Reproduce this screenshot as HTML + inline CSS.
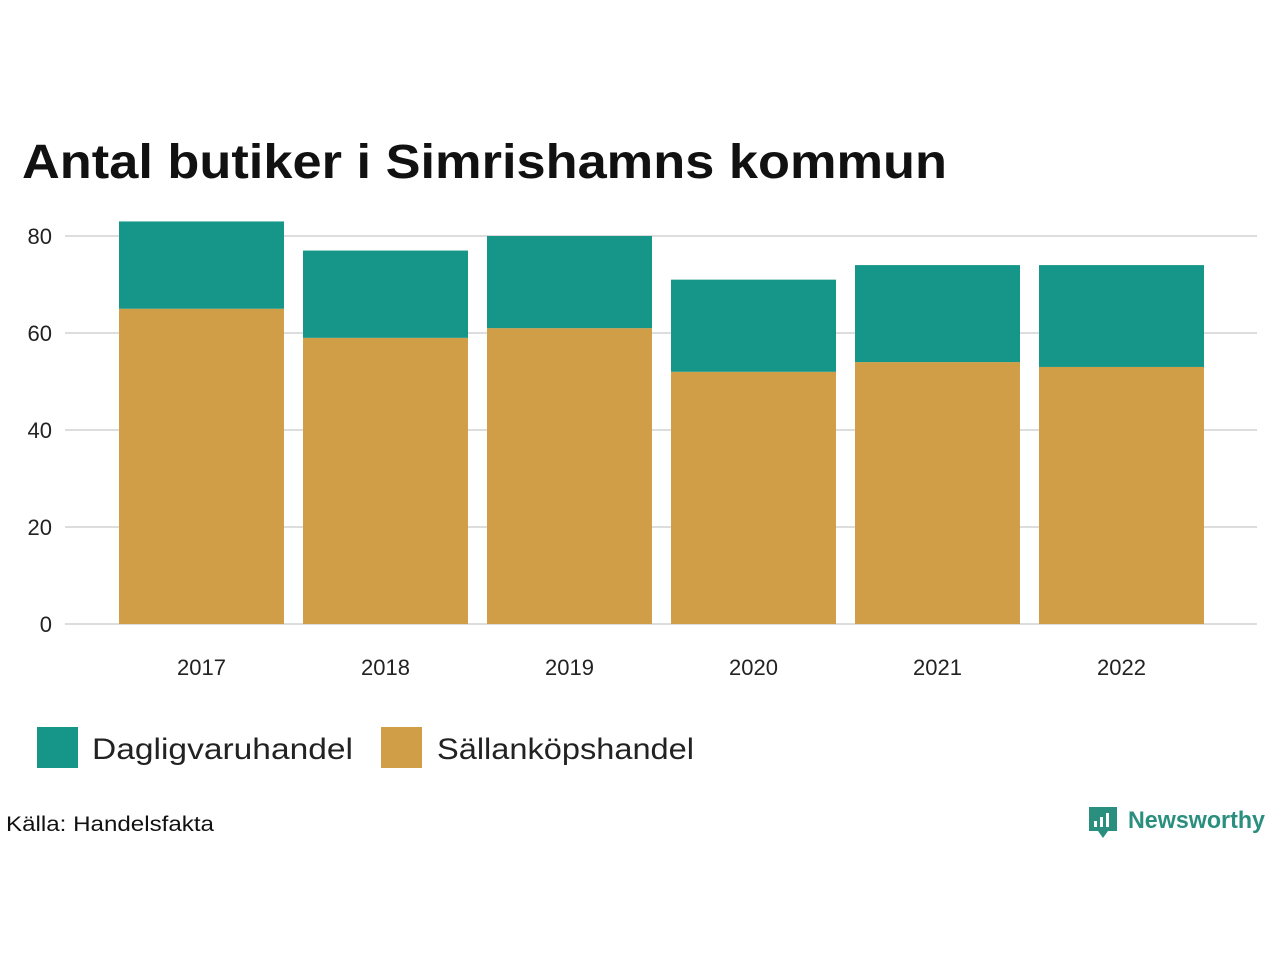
<!DOCTYPE html>
<html><head><meta charset="utf-8"><style>
body{margin:0;background:#fff;}
svg{display:block;font-family:"Liberation Sans","DejaVu Sans",sans-serif;}
</style></head><body>
<svg id="chart" width="1280" height="960" viewBox="0 0 1280 960">
<rect width="1280" height="960" fill="#fff"/>
<text x="22" y="178" font-size="48" font-weight="bold" fill="#111" textLength="925" lengthAdjust="spacingAndGlyphs">Antal butiker i Simrishamns kommun</text>
<g id="grid"></g>
<g id="bars"></g>
<g id="xlabels"></g>
<g>
<rect x="37" y="727" width="41" height="41" fill="#159688"/>
<text x="92" y="759" font-size="30" fill="#222" textLength="261" lengthAdjust="spacingAndGlyphs">Dagligvaruhandel</text>
<rect x="381" y="727" width="41" height="41" fill="#D19E48"/>
<text x="437" y="759" font-size="30" fill="#222" textLength="257" lengthAdjust="spacingAndGlyphs">Sällanköpshandel</text>
</g>
<text x="6" y="831" font-size="21" fill="#111" textLength="208" lengthAdjust="spacingAndGlyphs">Källa: Handelsfakta</text>
<g>
<path d="M1089 807 h28 v24 h-9 l-5 7 l-5 -7 h-9 z" fill="#2a8f7e"/>
<rect x="1094" y="821" width="3" height="6" fill="#fff"/><rect x="1100" y="817" width="3" height="10" fill="#fff"/><rect x="1106" y="813" width="3" height="14" fill="#fff"/>
<text x="1128" y="828" font-size="24" font-weight="bold" fill="#2a8f7e" textLength="137" lengthAdjust="spacingAndGlyphs">Newsworthy</text>
</g>
</svg>
<script>
const years=["2017","2018","2019","2020","2021","2022"];
const sallan=[65,59,61,52,54,53];
const dagligvaru=[18,18,19,19,20,21];
const yTicks=[0,20,40,60,80];
const NS="http://www.w3.org/2000/svg";
function y(v){return 624-v*4.85;}
function x(i){return 119+i*184;}
const bw=165;
function mk(tag,attrs,parent){const e=document.createElementNS(NS,tag);for(const k in attrs)e.setAttribute(k,attrs[k]);parent.appendChild(e);return e;}
const grid=document.getElementById('grid');
yTicks.forEach(t=>{
 const l=mk('line',{x1:65,x2:1257,y1:y(t),y2:y(t),stroke:'#ddd','stroke-width':2},grid);
 
 
 const tx=mk('text',{x:52,y:y(t)+8,'font-size':22,'text-anchor':'end',fill:'#222'},grid);
 tx.textContent=t;
 
 
});
const bars=document.getElementById('bars');
const xl=document.getElementById('xlabels');
years.forEach((yr,i)=>{
 const s=sallan[i],d=dagligvaru[i];
 const r1=mk('rect',{x:x(i),y:y(s),width:bw,height:y(0)-y(s),fill:'#D19E48'},bars);
 
 
 const r2=mk('rect',{x:x(i),y:y(s+d),width:bw,height:y(s)-y(s+d),fill:'#159688'},bars);
 
 
 const t=mk('text',{x:x(i)+bw/2,y:675,'font-size':22,'text-anchor':'middle',fill:'#222'},xl);
 t.textContent=yr;
 
 
});
</script>
</body></html>
